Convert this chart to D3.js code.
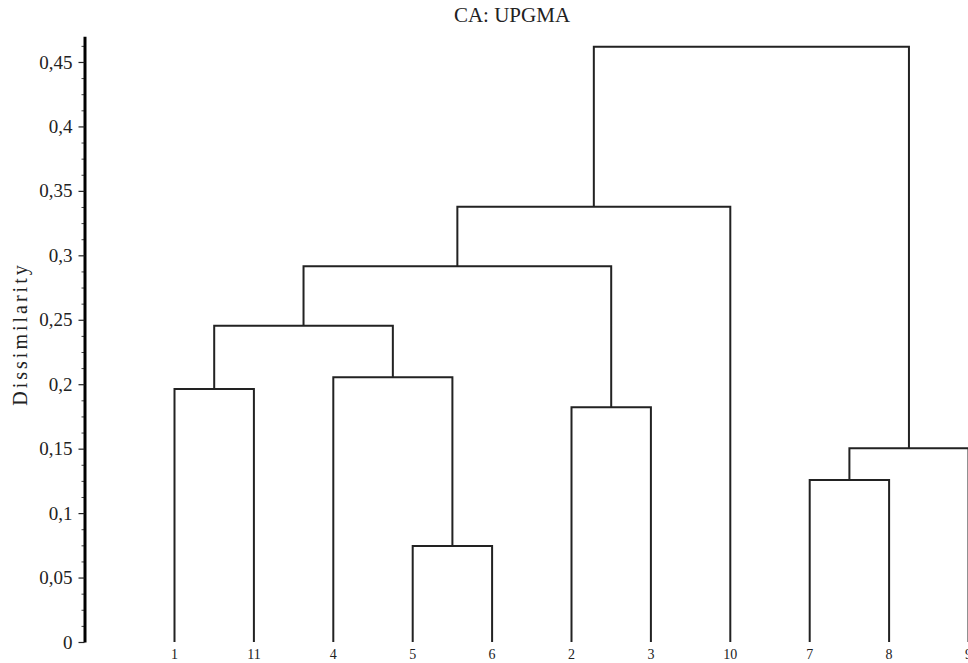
<!DOCTYPE html>
<html>
<head>
<meta charset="utf-8">
<script src="https://cdn.jsdelivr.net/npm/d3@7"></script>
<style>
  html, body { margin: 0; padding: 0; background: #fff; }
  svg { display: block; }
  text { font-family: "Liberation Serif", "DejaVu Serif", serif; fill: #222; }
</style>
</head>
<body>
<svg id="chart" width="968" height="663"></svg>
<script>
// ---- Data ----
const title = "CA: UPGMA";
const yLabel = "Dissimilarity";
const leaves = ["1", "11", "4", "5", "6", "2", "3", "10", "7", "8", "9"];
const mergeIds = ["n1", "n2", "n3", "n4", "n5", "n6", "n7", "n8", "n9", "n10"];
const mergeChildren = [
  ["1", "11"], ["5", "6"], ["4", "n2"], ["n1", "n3"], ["2", "3"],
  ["n4", "n5"], ["n6", "10"], ["7", "8"], ["n8", "9"], ["n7", "n9"]
];
const mergeHeights = [0.1963, 0.0745, 0.2054, 0.2454, 0.1821, 0.2915, 0.3377, 0.1257, 0.1503, 0.4619];
const yTicks = [0, 0.05, 0.1, 0.15, 0.2, 0.25, 0.3, 0.35, 0.4, 0.45];

// ---- Layout ----
const svg = d3.select("#chart");
const axisX = 84.5;
const y = d3.scaleLinear().domain([0, 0.47]).range([642, 36.2]);
const x = d3.scalePoint().domain(leaves).range([174.5, 968.5]);

const fmt = v => (v === 0 ? "0" : String(v).replace(".", ","));

// node positions
const pos = {};
leaves.forEach(l => { pos[l] = { x: x(l), h: 0 }; });
mergeIds.forEach((id, i) => {
  const [a, b] = mergeChildren[i];
  pos[id] = { x: (pos[a].x + pos[b].x) / 2, h: mergeHeights[i] };
});

// links
const g = svg.append("g");
mergeIds.forEach((id, i) => {
  const [a, b] = mergeChildren[i];
  const h = mergeHeights[i];
  const p = d3.path();
  p.moveTo(pos[a].x, y(pos[a].h));
  p.lineTo(pos[a].x, y(h));
  p.lineTo(pos[b].x, y(h));
  p.lineTo(pos[b].x, y(pos[b].h));
  g.append("path").attr("d", p.toString())
    .attr("fill", "none").attr("stroke", "#222").attr("stroke-width", 2);
});

// leaf labels
svg.append("g").selectAll("text").data(leaves).join("text")
  .attr("x", d => x(d)).attr("y", 659)
  .attr("text-anchor", "middle").attr("font-size", 14)
  .attr("fill", "#222")
  .text(d => d);

// minor ticks
const minorTicks = d3.range(0, 0.47, 0.0125).filter(v => Math.abs(v / 0.05 - Math.round(v / 0.05)) > 1e-6);
const minorAxis = d3.axisLeft(y).tickValues(minorTicks).tickSize(3).tickFormat("").tickSizeOuter(0);
const mg = svg.append("g").attr("transform", `translate(${axisX},0)`).call(minorAxis);
mg.select(".domain").remove();
mg.selectAll(".tick line").attr("stroke", "#444").attr("stroke-width", 1);

// major axis
const axis = d3.axisLeft(y).tickValues(yTicks).tickFormat(fmt).tickSize(6).tickPadding(6).tickSizeOuter(0);
const ag = svg.append("g").attr("transform", `translate(${axisX},0)`).call(axis);
ag.select(".domain").attr("stroke", "#000").attr("stroke-width", 3);
ag.selectAll(".tick line").attr("stroke", "#222").attr("stroke-width", 1.2);
ag.selectAll(".tick text").attr("font-size", 19)
  .attr("font-family", "Liberation Serif, serif").attr("fill", "#333");

// y label
svg.append("text")
  .attr("transform", "translate(27,334) rotate(-90)")
  .attr("text-anchor", "middle").attr("font-size", 20)
  .attr("letter-spacing", 3)
  .attr("fill", "#333")
  .text(yLabel);

// title
svg.append("text")
  .attr("x", 512).attr("y", 22)
  .attr("text-anchor", "middle").attr("font-size", 21)
  .attr("fill", "#222")
  .text(title);
</script>
</body>
</html>
